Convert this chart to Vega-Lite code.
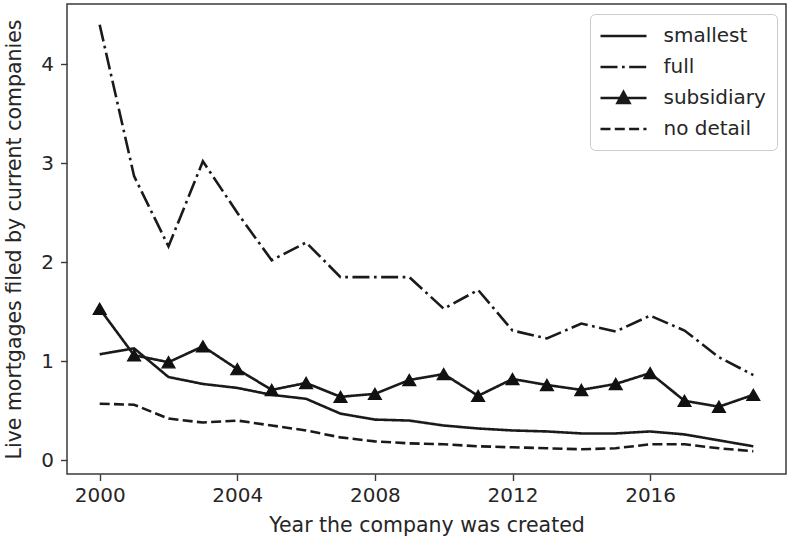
{
  "$schema": "https://vega.github.io/schema/vega-lite/v6.json",
  "width": 719,
  "height": 470,
  "autosize": {"type": "none"},
  "padding": {"left": 67, "top": 4, "right": 4, "bottom": 71},
  "background": "white",
  "config": {
    "view": {"stroke": "#3a3a3a", "strokeWidth": 1.5},
    "font": "DejaVu Sans",
    "axis": {
      "grid": false,
      "domain": false,
      "tickColor": "#3a3a3a",
      "tickWidth": 1.4,
      "tickSize": 6.5,
      "labelFont": "DejaVu Sans",
      "labelFontSize": 20,
      "labelColor": "#262626",
      "titleFont": "DejaVu Sans",
      "titleFontSize": 20.5,
      "titleFontWeight": "normal",
      "titleColor": "#262626"
    }
  },
  "data": {
    "values": [
      {"year": 2000, "series": "smallest", "value": 1.07},
      {"year": 2001, "series": "smallest", "value": 1.13},
      {"year": 2002, "series": "smallest", "value": 0.84},
      {"year": 2003, "series": "smallest", "value": 0.77},
      {"year": 2004, "series": "smallest", "value": 0.73},
      {"year": 2005, "series": "smallest", "value": 0.66},
      {"year": 2006, "series": "smallest", "value": 0.62},
      {"year": 2007, "series": "smallest", "value": 0.47},
      {"year": 2008, "series": "smallest", "value": 0.41},
      {"year": 2009, "series": "smallest", "value": 0.40},
      {"year": 2010, "series": "smallest", "value": 0.35},
      {"year": 2011, "series": "smallest", "value": 0.32},
      {"year": 2012, "series": "smallest", "value": 0.30},
      {"year": 2013, "series": "smallest", "value": 0.29},
      {"year": 2014, "series": "smallest", "value": 0.27},
      {"year": 2015, "series": "smallest", "value": 0.27},
      {"year": 2016, "series": "smallest", "value": 0.29},
      {"year": 2017, "series": "smallest", "value": 0.26},
      {"year": 2018, "series": "smallest", "value": 0.20},
      {"year": 2019, "series": "smallest", "value": 0.14},
      {"year": 2000, "series": "full", "value": 4.40},
      {"year": 2001, "series": "full", "value": 2.87},
      {"year": 2002, "series": "full", "value": 2.16},
      {"year": 2003, "series": "full", "value": 3.02},
      {"year": 2004, "series": "full", "value": 2.50},
      {"year": 2005, "series": "full", "value": 2.02},
      {"year": 2006, "series": "full", "value": 2.20},
      {"year": 2007, "series": "full", "value": 1.85},
      {"year": 2008, "series": "full", "value": 1.85},
      {"year": 2009, "series": "full", "value": 1.85},
      {"year": 2010, "series": "full", "value": 1.53},
      {"year": 2011, "series": "full", "value": 1.72},
      {"year": 2012, "series": "full", "value": 1.31},
      {"year": 2013, "series": "full", "value": 1.23},
      {"year": 2014, "series": "full", "value": 1.38},
      {"year": 2015, "series": "full", "value": 1.30},
      {"year": 2016, "series": "full", "value": 1.46},
      {"year": 2017, "series": "full", "value": 1.31},
      {"year": 2018, "series": "full", "value": 1.04},
      {"year": 2019, "series": "full", "value": 0.86},
      {"year": 2000, "series": "subsidiary", "value": 1.53},
      {"year": 2001, "series": "subsidiary", "value": 1.06},
      {"year": 2002, "series": "subsidiary", "value": 0.99},
      {"year": 2003, "series": "subsidiary", "value": 1.15},
      {"year": 2004, "series": "subsidiary", "value": 0.92},
      {"year": 2005, "series": "subsidiary", "value": 0.71},
      {"year": 2006, "series": "subsidiary", "value": 0.78},
      {"year": 2007, "series": "subsidiary", "value": 0.64},
      {"year": 2008, "series": "subsidiary", "value": 0.67},
      {"year": 2009, "series": "subsidiary", "value": 0.81},
      {"year": 2010, "series": "subsidiary", "value": 0.87},
      {"year": 2011, "series": "subsidiary", "value": 0.65},
      {"year": 2012, "series": "subsidiary", "value": 0.82},
      {"year": 2013, "series": "subsidiary", "value": 0.76},
      {"year": 2014, "series": "subsidiary", "value": 0.71},
      {"year": 2015, "series": "subsidiary", "value": 0.77},
      {"year": 2016, "series": "subsidiary", "value": 0.88},
      {"year": 2017, "series": "subsidiary", "value": 0.60},
      {"year": 2018, "series": "subsidiary", "value": 0.54},
      {"year": 2019, "series": "subsidiary", "value": 0.66},
      {"year": 2000, "series": "no detail", "value": 0.57},
      {"year": 2001, "series": "no detail", "value": 0.56},
      {"year": 2002, "series": "no detail", "value": 0.42},
      {"year": 2003, "series": "no detail", "value": 0.38},
      {"year": 2004, "series": "no detail", "value": 0.40},
      {"year": 2005, "series": "no detail", "value": 0.35},
      {"year": 2006, "series": "no detail", "value": 0.30},
      {"year": 2007, "series": "no detail", "value": 0.23},
      {"year": 2008, "series": "no detail", "value": 0.19},
      {"year": 2009, "series": "no detail", "value": 0.17},
      {"year": 2010, "series": "no detail", "value": 0.16},
      {"year": 2011, "series": "no detail", "value": 0.14},
      {"year": 2012, "series": "no detail", "value": 0.13},
      {"year": 2013, "series": "no detail", "value": 0.12},
      {"year": 2014, "series": "no detail", "value": 0.11},
      {"year": 2015, "series": "no detail", "value": 0.12},
      {"year": 2016, "series": "no detail", "value": 0.16},
      {"year": 2017, "series": "no detail", "value": 0.16},
      {"year": 2018, "series": "no detail", "value": 0.12},
      {"year": 2019, "series": "no detail", "value": 0.09}
    ]
  },
  "encoding": {
    "x": {
      "field": "year",
      "type": "quantitative",
      "scale": {"domain": [1999.05, 2019.95], "nice": false, "zero": false},
      "axis": {"values": [2000, 2004, 2008, 2012, 2016], "format": "d", "title": "Year the company was created", "labelPadding": 5, "titlePadding": 10}
    },
    "y": {
      "field": "value",
      "type": "quantitative",
      "scale": {"domain": [-0.14, 4.61], "nice": false, "zero": false},
      "axis": {"values": [0, 1, 2, 3, 4], "title": "Live mortgages filed by current companies", "labelPadding": 7, "titlePadding": 16}
    }
  },
  "layer": [
    {
      "mark": {"type": "line", "color": "#1a1a1a", "strokeWidth": 2.6, "strokeCap": "butt"},
      "encoding": {
        "strokeDash": {
          "field": "series",
          "type": "nominal",
          "scale": {
            "domain": ["smallest", "full", "subsidiary", "no detail"],
            "range": [[1, 0], [17, 4.5, 2.7, 4.5], [1, 0], [10, 4.3]]
          },
          "legend": {
            "title": null,
            "orient": "top-right",
            "offset": 9.5,
            "padding": 10.5,
            "fillColor": "white",
            "strokeColor": "#cccccc",
            "cornerRadius": 5,
            "symbolSize": 400,
            "symbolStrokeWidth": 2.6,
            "symbolStrokeColor": "#1a1a1a",
            "labelFont": "DejaVu Sans",
            "labelFontSize": 20,
            "labelColor": "#262626",
            "labelOffset": 40,
            "rowPadding": 9,
            "encode": {
              "symbols": {
                "update": {
                  "shape": {"signal": "datum.value === 'subsidiary' ? 'M-1.15,0H3.45M1.15,-0.6L1.75,0.5L0.55,0.5Z' : 'M-1.15,0H3.45'"},
                  "fill": {"signal": "datum.value === 'subsidiary' ? '#1a1a1a' : 'transparent'"},
                  "stroke": {"value": "#1a1a1a"},
                  "strokeWidth": {"value": 2.6},
                  "opacity": {"value": 1}
                }
              }
            }
          }
        }
      }
    },
    {
      "transform": [{"filter": "datum.series === 'subsidiary'"}],
      "mark": {"type": "point", "shape": "triangle-up", "filled": true, "size": 170, "color": "#111111", "stroke": "#111111", "strokeWidth": 1.2, "opacity": 1}
    }
  ]
}
